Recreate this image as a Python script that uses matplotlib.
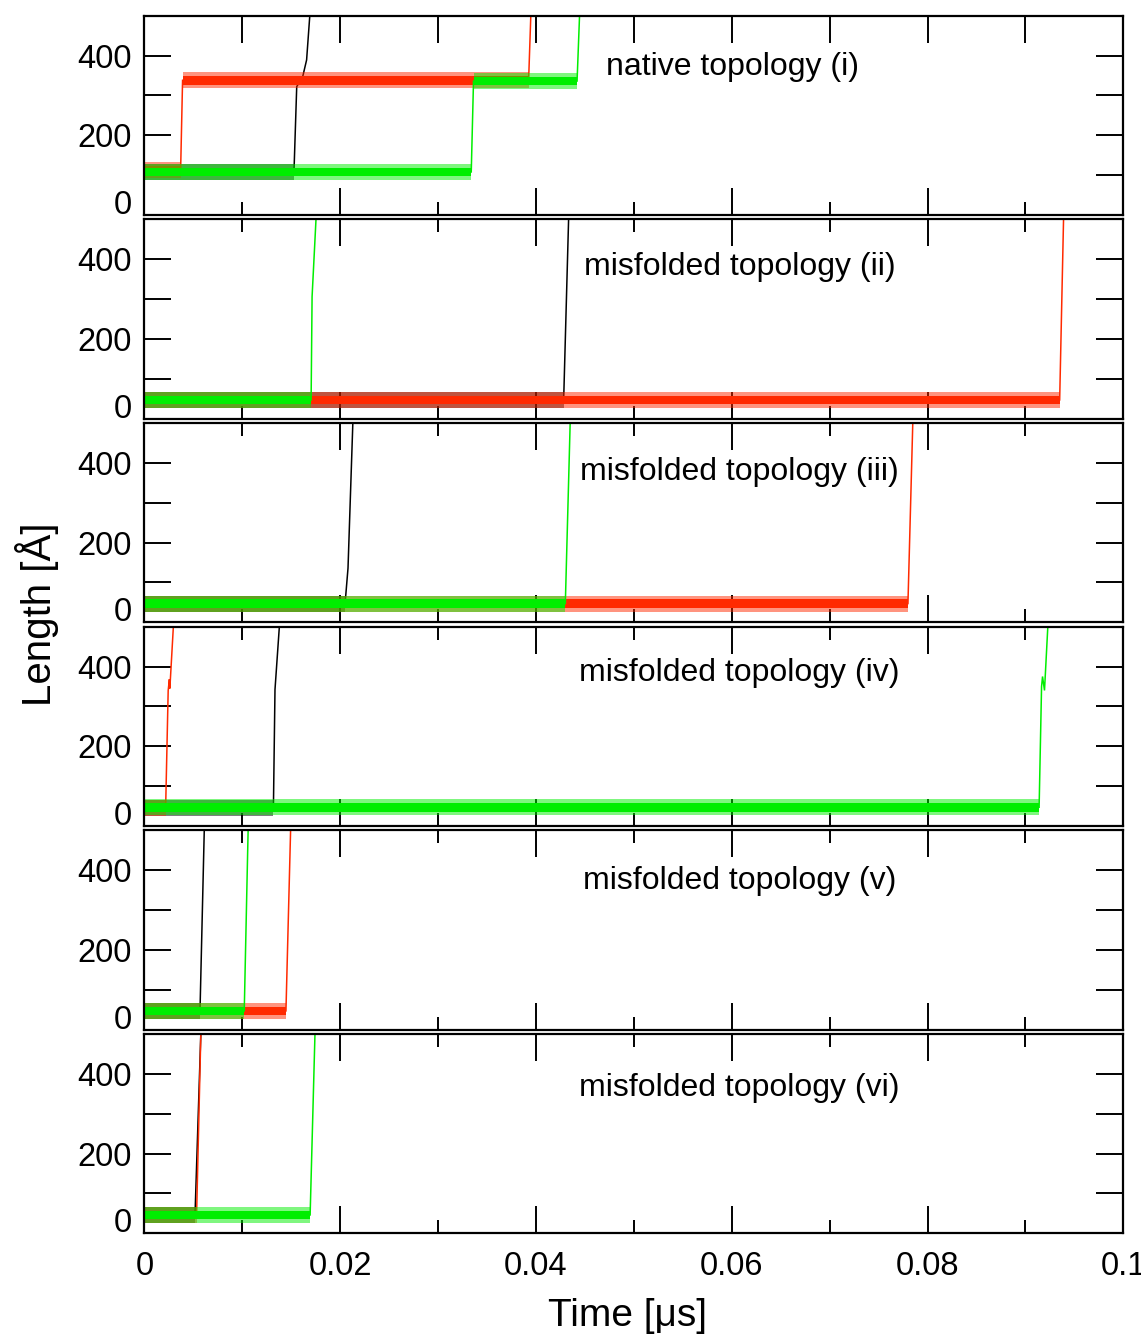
import matplotlib
matplotlib.use("Agg")
import matplotlib.pyplot as plt
from matplotlib.ticker import FixedLocator, MultipleLocator
import matplotlib.transforms as mtransforms

plt.rcParams['font.family'] = ['Liberation Sans', 'DejaVu Sans']

# ---------------- data (time in microseconds, length in Angstrom) ----------------
panel_labels = ["native topology (i)", "misfolded topology (ii)", "misfolded topology (iii)",
                "misfolded topology (iv)", "misfolded topology (v)", "misfolded topology (vi)"]
label_x = [0.0601, 0.0608, 0.0608, 0.0608, 0.0608, 0.0608]
label_y = [372, 380, 377, 385, 372, 364]

# panel (i)
p1_black_t = [0, 0.01528, 0.01556, 0.01617, 0.01657, 0.01691]
p1_black_L = [108, 108, 322, 347, 389, 505]
p1_red_t = [0, 0.00370, 0.00390, 0.03925, 0.03948]
p1_red_L = [112, 112, 338, 338, 505]
p1_green_t = [0, 0.03339, 0.03362, 0.04420, 0.04446]
p1_green_L = [108, 108, 336, 336, 505]

# panel (ii)
p2_black_t = [0, 0.04283, 0.04334]
p2_black_L = [47, 47, 505]
p2_red_t = [0, 0.0935, 0.0939]
p2_red_L = [47, 47, 505]
p2_green_t = [0, 0.01703, 0.01713, 0.01754]
p2_green_L = [47, 47, 306, 505]

# panel (iii)
p3_black_t = [0, 0.0205, 0.0208, 0.0213]
p3_black_L = [47, 47, 136, 505]
p3_red_t = [0, 0.0780, 0.0785]
p3_red_L = [47, 47, 505]
p3_green_t = [0, 0.0430, 0.0435]
p3_green_L = [47, 47, 505]

# panel (iv)
p4_black_t = [0, 0.01318, 0.01334, 0.01380]
p4_black_L = [46, 46, 342, 505]
p4_red_t = [0, 0.00217, 0.00243, 0.00255, 0.00260, 0.00297]
p4_red_L = [46, 46, 340, 368, 345, 505]
p4_green_t = [0, 0.0914, 0.09165, 0.09175, 0.09195, 0.0923]
p4_green_L = [47, 47, 350, 375, 340, 505]

# panel (v)
p5_black_t = [0, 0.00568, 0.00612]
p5_black_L = [47, 47, 505]
p5_red_t = [0, 0.01446, 0.01494]
p5_red_L = [47, 47, 505]
p5_green_t = [0, 0.0102, 0.0106]
p5_green_L = [47, 47, 505]

# panel (vi)
p6_black_t = [0, 0.00517, 0.00577]
p6_black_L = [46, 46, 505]
p6_red_t = [0, 0.00533, 0.00577]
p6_red_L = [46, 46, 505]
p6_green_t = [0, 0.01693, 0.01743]
p6_green_L = [46, 46, 505]

panels = [
    [(p1_black_t, p1_black_L), (p1_red_t, p1_red_L), (p1_green_t, p1_green_L)],
    [(p2_black_t, p2_black_L), (p2_red_t, p2_red_L), (p2_green_t, p2_green_L)],
    [(p3_black_t, p3_black_L), (p3_red_t, p3_red_L), (p3_green_t, p3_green_L)],
    [(p4_black_t, p4_black_L), (p4_red_t, p4_red_L), (p4_green_t, p4_green_L)],
    [(p5_black_t, p5_black_L), (p5_red_t, p5_red_L), (p5_green_t, p5_green_L)],
    [(p6_black_t, p6_black_L), (p6_red_t, p6_red_L), (p6_green_t, p6_green_L)],
]
colors = ["black", "#ff2a00", "#00ee00"]

y_ticks = [0, 100, 200, 300, 400]
y_ticklabels = ["0", "", "200", "", "400"]
x_major = [0, 0.02, 0.04, 0.06, 0.08, 0.1]
x_ticklabels = ["0", "0.02", "0.04", "0.06", "0.08", "0.1"]

# ---------------- figure ----------------
W, H = 1141, 1336
fig = plt.figure(figsize=(W / 100, H / 100), dpi=100)

left_px, right_px = 144.4, 1123.3
top0, ph, gap = 15.7, 199.3, 4.36
band_core, band_outer = 11, 20

axes = []
for k in range(6):
    top = top0 + k * (ph + gap)
    ax = fig.add_axes([left_px / W, 1 - (top + ph) / H, (right_px - left_px) / W, ph / H])
    axes.append(ax)
    for (t, L), c in zip(panels[k], colors):
        ax.plot(t, L, color=c, lw=1.1, solid_joinstyle='miter', zorder=2)
        for i in range(len(t) - 1):
            if L[i] == L[i + 1]:
                ax.fill_between([t[i], t[i + 1]], L[i] - band_outer, L[i] + band_outer,
                                color=c, alpha=0.5, lw=0, zorder=2)
                ax.fill_between([t[i], t[i + 1]], L[i] - band_core, L[i] + band_core,
                                color=c, lw=0, zorder=2)
    ax.set_xlim(0, 0.1)
    ax.set_ylim(0, 500)
    ax.yaxis.set_major_locator(FixedLocator(y_ticks))
    ax.set_yticklabels(y_ticklabels)
    ax.xaxis.set_major_locator(FixedLocator(x_major))
    ax.xaxis.set_minor_locator(MultipleLocator(0.01))
    ax.tick_params(axis='both', which='major', direction='in', length=19.5, width=1.4,
                   top=True, right=True, labelsize=23.5, pad=9)
    ax.tick_params(axis='x', which='minor', direction='in', length=9.5, width=1.4,
                   top=True, bottom=True)
    ax.tick_params(axis='x', which='major', pad=13)
    for s in ax.spines.values():
        s.set_linewidth(1.6)
    # shift the "0" y tick label upward like in the reference
    lab0 = ax.get_yticklabels()[0]
    lab0.set_transform(lab0.get_transform() + mtransforms.ScaledTranslation(0, 13 / 100, fig.dpi_scale_trans))
    if k < 5:
        ax.set_xticklabels([])
    else:
        ax.set_xticklabels(x_ticklabels)
    ax.text(label_x[k], label_y[k], panel_labels[k], ha='center', va='center', fontsize=23)

# top minor ticks of first panel are long
fig.canvas.draw()
for tk in axes[0].xaxis.get_minor_ticks():
    tk.tick2line.set_markersize(19.5)

fig.text(627 / W, 1 - 1316 / H, "Time [μs]", ha='center', va='center', fontsize=28)
fig.text(37 / W, 1 - 614 / H, "Length [Å]", ha='center', va='center', rotation=90, fontsize=29)

fig.savefig("out.png", dpi=100)
